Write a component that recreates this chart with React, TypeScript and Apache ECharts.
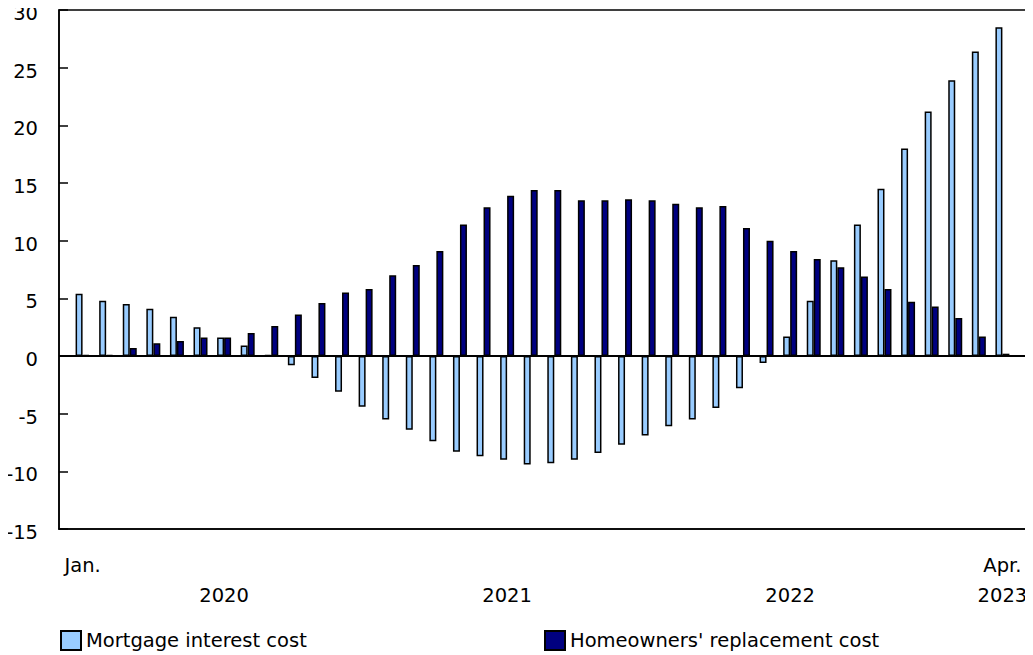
import React, { useEffect, useRef } from "react";
import * as echarts from "echarts";

const months = [
  "2020-01","2020-02","2020-03","2020-04","2020-05","2020-06","2020-07","2020-08","2020-09","2020-10","2020-11","2020-12",
  "2021-01","2021-02","2021-03","2021-04","2021-05","2021-06","2021-07","2021-08","2021-09","2021-10","2021-11","2021-12",
  "2022-01","2022-02","2022-03","2022-04","2022-05","2022-06","2022-07","2022-08","2022-09","2022-10","2022-11","2022-12",
  "2023-01","2023-02","2023-03","2023-04",
];

const mortgageInterest = [
  5.4, 4.8, 4.5, 4.1, 3.4, 2.5, 1.6, 0.9, 0.1, -0.8, -1.9, -3.1,
  -4.4, -5.5, -6.4, -7.4, -8.3, -8.7, -9.0, -9.4, -9.3, -9.0, -8.4, -7.7,
  -6.9, -6.1, -5.5, -4.5, -2.8, -0.6, 1.7, 4.8, 8.3, 11.4, 14.5, 18.0,
  21.2, 23.9, 26.4, 28.5,
];

const replacementCost = [
  0.1, 0.1, 0.7, 1.1, 1.3, 1.6, 1.6, 2.0, 2.6, 3.6, 4.6, 5.5,
  5.8, 7.0, 7.9, 9.1, 11.4, 12.9, 13.9, 14.4, 14.4, 13.5, 13.5, 13.6,
  13.5, 13.2, 12.9, 13.0, 11.1, 10.0, 9.1, 8.4, 7.7, 6.9, 5.8, 4.7,
  4.3, 3.3, 1.7, 0.2,
];

const monthLabels: Record<string, string> = { "2020-01": "Jan.", "2023-04": "Apr." };
const yearLabels: Record<string, string> = {
  "2020-07": "2020",
  "2021-07": "2021",
  "2022-07": "2022",
  "2023-04": "2023",
};

const yTicks = { min: -15, max: 30, interval: 5 };

const FONT = "DejaVu Sans";
const FS = 19.5;

export default function App() {
  const ref = useRef<HTMLDivElement>(null);

  useEffect(() => {
    if (!ref.current) return;
    const chart = echarts.init(ref.current, undefined, { renderer: "svg" });
    // pad one empty slot at each end so the bars sit inside the frame
    const cats = ["", ...months, " "];
    const pad = (arr: number[]) => [null, ...arr, null];

    const legendBase = {
      top: 625,
      itemWidth: 20,
      itemHeight: 19,
      icon: "rect",
      textStyle: { fontFamily: FONT, fontSize: FS, color: "#000" },
    };

    chart.setOption({
      animation: false,
      textStyle: { fontFamily: FONT, color: "#000" },
      grid: {
        left: 59,
        right: 7,
        top: 10,
        bottom: 126,
        show: true,
        borderColor: "#000",
        borderWidth: 1.5,
        backgroundColor: "transparent",
      },
      legend: [
        { ...legendBase, data: ["Mortgage interest cost"], left: 55 },
        { ...legendBase, data: ["Homeowners' replacement cost"], left: 539 },
      ],
      xAxis: [
        {
          type: "category",
          data: cats,
          boundaryGap: false,
          axisLine: { show: true, onZero: false, lineStyle: { color: "#000", width: 1.5 } },
          axisTick: { show: false },
          axisLabel: {
            interval: 0,
            margin: 26,
            fontFamily: FONT,
            fontSize: FS,
            color: "#000",
            formatter: (v: string) => monthLabels[v] || "",
          },
          splitLine: { show: false },
        },
        {
          type: "category",
          data: cats,
          position: "bottom",
          boundaryGap: false,
          axisLine: { show: false },
          axisTick: { show: false },
          axisLabel: {
            interval: 0,
            margin: 56,
            fontFamily: FONT,
            fontSize: FS,
            color: "#000",
            formatter: (v: string) => yearLabels[v] || "",
          },
          splitLine: { show: false },
        },
      ],
      yAxis: {
        type: "value",
        min: yTicks.min,
        max: yTicks.max,
        interval: yTicks.interval,
        axisLine: { show: true, lineStyle: { color: "#000", width: 1.5 } },
        axisTick: { show: true, inside: true, length: 9, lineStyle: { color: "#000", width: 1.5 } },
        axisLabel: {
          margin: 21,
          verticalAlign: "top",
          lineHeight: 7,
          fontFamily: FONT,
          fontSize: FS,
          color: "#000",
        },
        splitLine: { show: false },
      },
      series: [
        {
          name: "Mortgage interest cost",
          type: "bar",
          data: pad(mortgageInterest),
          barWidth: 7,
          barGap: "0%",
          itemStyle: { color: "#99CCFF", borderColor: "#000", borderWidth: 1.5 },
          markLine: {
            silent: true,
            symbol: "none",
            label: { show: false },
            lineStyle: { color: "#000", width: 2, type: "solid" },
            data: [{ yAxis: 0 }],
            z: 10,
          },
        },
        {
          name: "Homeowners' replacement cost",
          type: "bar",
          data: pad(replacementCost),
          barWidth: 7,
          barGap: "0%",
          itemStyle: { color: "#000080", borderColor: "#000", borderWidth: 1.5 },
        },
      ],
    });
    return () => chart.dispose();
  }, []);

  return <div ref={ref} style={{ width: 1033, height: 655, marginLeft: -8, marginTop: -8 }} />;
}
